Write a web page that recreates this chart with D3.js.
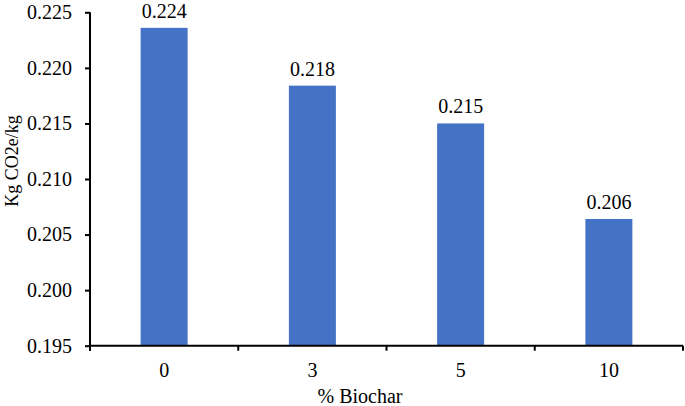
<!DOCTYPE html>
<html><head><meta charset="utf-8">
<script src="https://cdn.jsdelivr.net/npm/d3@7"></script>
<style>body{margin:0;background:#fff}svg{display:block}text{font-family:"Liberation Serif","Times New Roman",serif}</style>
</head><body>
<svg id="c" width="685" height="406"></svg>
<script>
const categories = ["0", "3", "5", "10"];
const values = [0.2236, 0.2184, 0.2150, 0.2064];
const valueLabels = ["0.224", "0.218", "0.215", "0.206"];
const yTicks = [0.195, 0.200, 0.205, 0.210, 0.215, 0.220, 0.225];

(function () {
const svg = d3.select("#c");
const mLeft = 90, mRight = 683, mTop = 12.3, mBottom = 345.7;
const x = d3.scaleBand().domain(categories).range([mLeft, mRight]).paddingInner(0.683).paddingOuter(0.3415);
const y = d3.scaleLinear().domain([0.195, 0.225]).range([mBottom, mTop]);

svg.selectAll("rect.bar").data(values).enter().append("rect")
  .attr("class", "bar")
  .attr("x", (d, i) => x(categories[i]))
  .attr("width", x.bandwidth())
  .attr("y", d => y(d))
  .attr("height", d => mBottom - y(d))
  .attr("fill", "#4472C4");

svg.selectAll("text.val").data(values).enter().append("text")
  .attr("class", "val")
  .attr("x", (d, i) => x(categories[i]) + x.bandwidth() / 2)
  .attr("y", d => y(d) - 10)
  .attr("text-anchor", "middle")
  .attr("font-size", 20)
  .attr("fill", "#000")
  .text((d, i) => valueLabels[i]);

const yAxis = d3.axisLeft(y).tickValues(yTicks).tickFormat(d3.format(".3f")).tickSize(5).tickPadding(13);
const gy = svg.append("g").attr("transform", `translate(${mLeft},0)`).call(yAxis);
gy.select(".domain").attr("stroke", "#000").attr("stroke-width", 2).attr("d", `M0,${mTop}V${mBottom + 5}`);
gy.selectAll(".tick line").attr("stroke", "#000").attr("stroke-width", 2);
gy.selectAll(".tick text").attr("font-size", 20).attr("font-family", "Liberation Serif").attr("fill", "#000");

const gx = svg.append("g").attr("transform", `translate(0,${mBottom})`);
gx.append("line").attr("x1", mLeft).attr("x2", mRight).attr("y1", 0).attr("y2", 0).attr("stroke", "#000").attr("stroke-width", 2);
const bounds = d3.range(categories.length + 1).map(i => mLeft + i * (mRight - mLeft) / categories.length);
gx.selectAll("line.tk").data(bounds).enter().append("line").attr("class", "tk")
  .attr("x1", d => d).attr("x2", d => d).attr("y1", 0).attr("y2", 5)
  .attr("stroke", "#000").attr("stroke-width", 2);
gx.selectAll("text.cl").data(categories).enter().append("text").attr("class", "cl")
  .attr("x", d => x(d) + x.bandwidth() / 2)
  .attr("y", 31)
  .attr("text-anchor", "middle").attr("font-size", 20).attr("fill", "#000")
  .text(d => d);

svg.append("text").attr("x", 360).attr("y", 403).attr("text-anchor", "middle")
  .attr("font-size", 20).attr("fill", "#000").text("% Biochar");

svg.append("text").attr("transform", "translate(18,161) rotate(-90)")
  .attr("text-anchor", "middle").attr("font-size", 18).attr("fill", "#000").text("Kg CO2e/kg");
})();
</script>
</body></html>
